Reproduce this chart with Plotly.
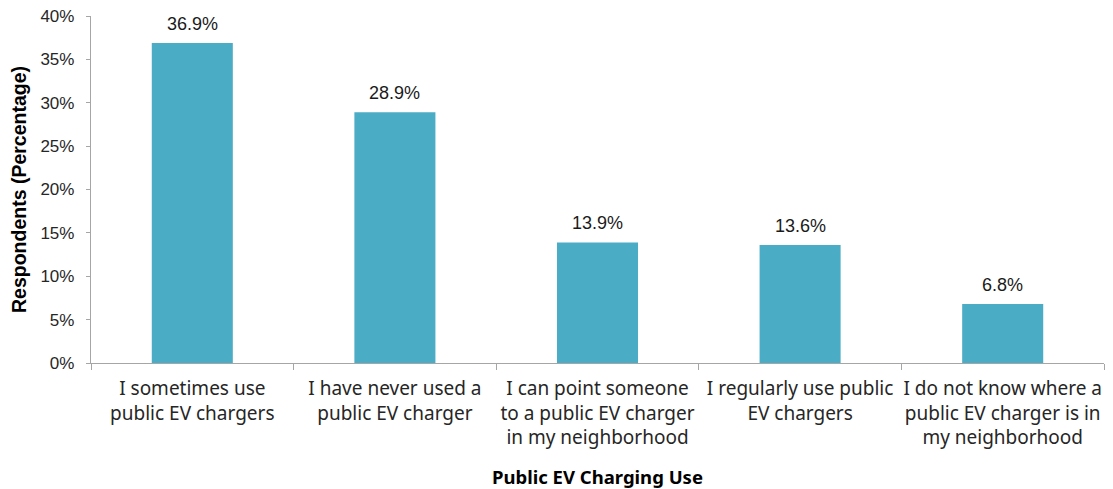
import plotly.graph_objects as go

categories = [
    "I sometimes use<br>public EV chargers",
    "I have never used a<br>public EV charger",
    "I can point someone<br>to a public EV charger<br>in my neighborhood",
    "I regularly use public<br>EV chargers",
    "I do not know where a<br>public EV charger is in<br>my neighborhood",
]
values = [0.369, 0.289, 0.139, 0.136, 0.068]
labels = ["36.9%", "28.9%", "13.9%", "13.6%", "6.8%"]
y_ticks = [0, 0.05, 0.10, 0.15, 0.20, 0.25, 0.30, 0.35, 0.40]

fig = go.Figure()
fig.add_trace(go.Bar(
    x=categories, y=values, marker_color="#4BACC6",
    marker_line_width=0, width=0.4, hoverinfo="skip",
))
for c, v, t in zip(categories, values, labels):
    fig.add_annotation(x=c, y=v, text=t, showarrow=False, yanchor="bottom",
                       yshift=7, font=dict(family="Liberation Sans, Arial", size=18, color="#1a1a1a"))

fig.update_layout(
    width=1113, height=489,
    margin=dict(l=91, r=9, t=16, b=126),
    plot_bgcolor="white", paper_bgcolor="white",
    showlegend=False,
)
fig.update_xaxes(
    automargin=False, tickangle=0,
    showline=True, linecolor="#A6A6A6", linewidth=1.3,
    ticks="outside", tickson="boundaries", ticklen=6, tickcolor="#A6A6A6",
    ticklabelstandoff=8,
    tickfont=dict(family="Noto Sans", size=19, color="#262626"),
    title=dict(text="<b>Public EV Charging Use</b>", standoff=21,
               font=dict(family="Noto Sans", size=18.5, color="#000000")),
    showgrid=False,
)
fig.update_yaxes(
    automargin=False,
    range=[0, 0.4], tickvals=y_ticks, tickformat=".0%",
    showline=True, linecolor="#A6A6A6", linewidth=1.3,
    ticks="outside", ticklen=4, tickcolor="#A6A6A6",
    ticklabelstandoff=8,
    tickfont=dict(family="Liberation Sans, Arial", size=17, color="#262626"),
    title=dict(text="<b>Respondents (Percentage)</b>", standoff=8,
               font=dict(family="Liberation Sans, Arial", size=19.5, color="#000000")),
    showgrid=False, zeroline=False,
)
fig.write_html("out.html", config={"displayModeBar": False},
               post_script="document.body.style.margin='0';document.body.style.overflow='hidden';")
